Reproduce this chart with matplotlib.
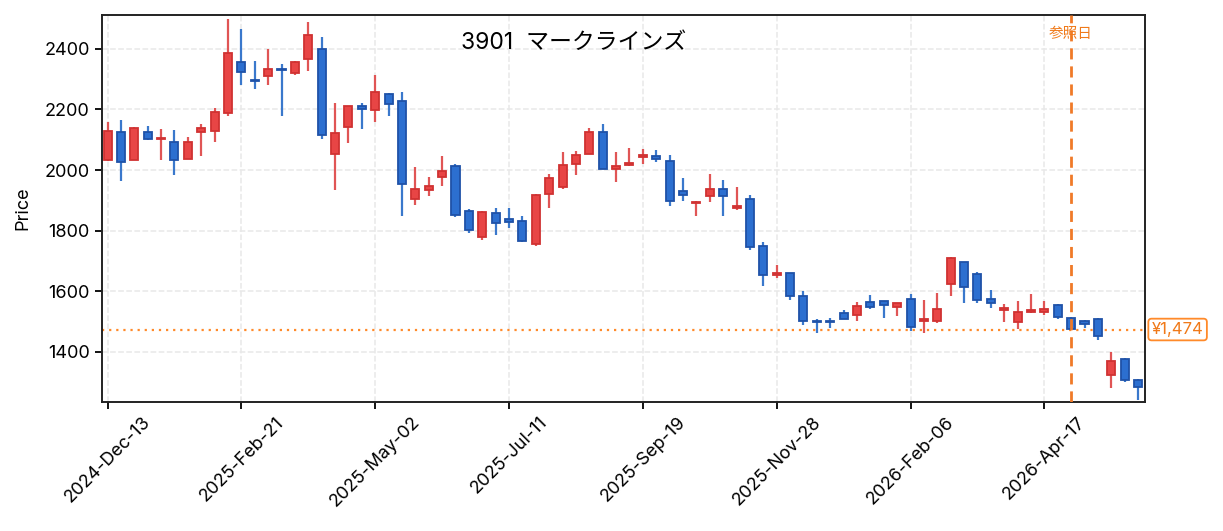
import numpy as np
import pandas as pd
import matplotlib
matplotlib.use("Agg")
import matplotlib.pyplot as plt

plt.rcParams['font.family'] = ['Inter', 'Noto Sans CJK JP', 'DejaVu Sans']

# weekly candles, starting 2024-12-13
start = "2024-12-13"
opens = [2034, 2126, 2034, 2126, 2103, 2091, 2037, 2126, 2129, 2188,
         2358, 2298, 2311, 2334, 2321, 2367, 2401, 2054, 2143, 2210,
         2199, 2252, 2229, 1906, 1935, 1978, 2015, 1866, 1780, 1860,
         1837, 1833, 1756, 1921, 1944, 2020, 2053, 2127, 2004, 2017,
         2044, 2048, 2031, 1932, 1891, 1914, 1937, 1876, 1903, 1748,
         1654, 1662, 1586, 1503, 1503, 1527, 1522, 1566, 1569, 1549,
         1576, 1503, 1502, 1623, 1698, 1656, 1576, 1538, 1498, 1532,
         1531, 1556, 1513, 1503, 1510, 1323, 1378, 1309]
highs = [2158, 2165, 2142, 2146, 2136, 2133, 2110, 2152, 2204, 2499,
         2466, 2360, 2400, 2350, 2360, 2489, 2440, 2221, 2212, 2221,
         2313, 2254, 2257, 2010, 1978, 2046, 2019, 1871, 1864, 1875,
         1875, 1849, 1920, 1987, 2059, 2063, 2139, 2152, 2060, 2073,
         2070, 2066, 2049, 1974, 1897, 1987, 1968, 1945, 1917, 1762,
         1687, 1662, 1600, 1508, 1512, 1538, 1565, 1588, 1569, 1563,
         1590, 1571, 1595, 1712, 1698, 1664, 1604, 1558, 1568, 1591,
         1568, 1557, 1515, 1504, 1511, 1400, 1380, 1310]
lows = [2030, 1965, 2032, 2098, 2034, 1985, 2036, 2048, 2094, 2180,
        2279, 2269, 2279, 2177, 2312, 2328, 2104, 1935, 2088, 2134,
        2157, 2180, 1850, 1886, 1913, 1946, 1844, 1792, 1769, 1785,
        1810, 1764, 1749, 1876, 1936, 1985, 2053, 2005, 1962, 2015,
        2019, 2028, 1883, 1899, 1850, 1896, 1850, 1868, 1736, 1619,
        1645, 1573, 1490, 1464, 1480, 1509, 1503, 1541, 1513, 1517,
        1468, 1464, 1494, 1583, 1563, 1561, 1546, 1499, 1476, 1530,
        1523, 1510, 1472, 1480, 1441, 1282, 1302, 1243]
closes = [2130, 2027, 2140, 2103, 2106, 2034, 2091, 2140, 2190, 2385,
          2322, 2295, 2335, 2330, 2358, 2447, 2116, 2121, 2210, 2200,
          2256, 2218, 1954, 1939, 1946, 1998, 1851, 1803, 1861, 1826,
          1830, 1766, 1919, 1975, 2018, 2051, 2127, 2005, 2015, 2024,
          2049, 2038, 1899, 1917, 1894, 1936, 1914, 1883, 1747, 1654,
          1661, 1585, 1502, 1499, 1500, 1509, 1550, 1549, 1555, 1563,
          1483, 1508, 1543, 1711, 1613, 1572, 1562, 1546, 1533, 1537,
          1543, 1514, 1475, 1492, 1453, 1371, 1307, 1283]

ref_index = 72
ref_price = 1474
title = "3901  マークラインズ"

dates = pd.date_range(start, periods=len(opens), freq="7D")
x = np.arange(len(opens))
o = np.array(opens); h = np.array(highs); l = np.array(lows); c = np.array(closes)
up = c >= o

fig, ax = plt.subplots(figsize=(12.23, 5.31), dpi=100)
fig.subplots_adjust(left=0.083, right=0.936, top=0.972, bottom=0.243)

red_face, red_edge = "#e84545", "#d03232"
blue_face, blue_edge = "#2c6fd0", "#1f52a8"

wick_cols = np.where(up, "#e05555", "#3a78cc")
ax.vlines(x, l, h, colors=wick_cols, linewidth=1.6, zorder=2)

body_bottom = np.minimum(o, c)
body_h = np.maximum(np.abs(c - o), 2)
ax.bar(x[up], body_h[up], bottom=body_bottom[up], width=0.6,
       color=red_face, edgecolor=red_edge, linewidth=1.3, zorder=3)
ax.bar(x[~up], body_h[~up], bottom=body_bottom[~up], width=0.6,
       color=blue_face, edgecolor=blue_edge, linewidth=1.3, zorder=3)

# reference lines
ax.axhline(ref_price, color="#ff8a2a", linestyle=(0, (1, 2.2)), linewidth=1.6, zorder=1)
ax.axvline(ref_index, color="#f07a28", linestyle=(0, (4, 2.5)), linewidth=2, zorder=4)
ax.text(ref_index, 2450, "参照日", color="#f07a1a", fontsize=10.5, ha="center", va="center", zorder=5)
ax.annotate(f"¥{ref_price:,}", xy=(1.0, ref_price), xycoords=("axes fraction", "data"),
            xytext=(5, 0), textcoords="offset points", ha="left", va="center",
            color="#f07a1a", fontsize=12,
            bbox=dict(boxstyle="round,pad=0.2", fc="white", ec="#ff8a2a", lw=1.3))

ax.text(0.453, 0.955, title, transform=ax.transAxes, ha="center", va="top", fontsize=16.5)

ticks = x[::10]
ax.set_xticks(ticks)
ax.set_xticklabels([d.strftime("%Y-%b-%d") for d in dates[ticks]],
                   rotation=45, ha="center", fontsize=13)
ax.tick_params(axis="y", labelsize=13)
ax.tick_params(length=5, width=1.3)
ax.set_ylabel("Price", fontsize=13, labelpad=9)
ax.set_xlim(-0.45, 77.5)
ax.set_ylim(1235, 2512)
ax.grid(True, linestyle="--", color="#e8e8e8", linewidth=1.1)
ax.set_axisbelow(True)
for s in ax.spines.values():
    s.set_linewidth(1.4)
    s.set_color("#222222")

fig.savefig("out.png")
